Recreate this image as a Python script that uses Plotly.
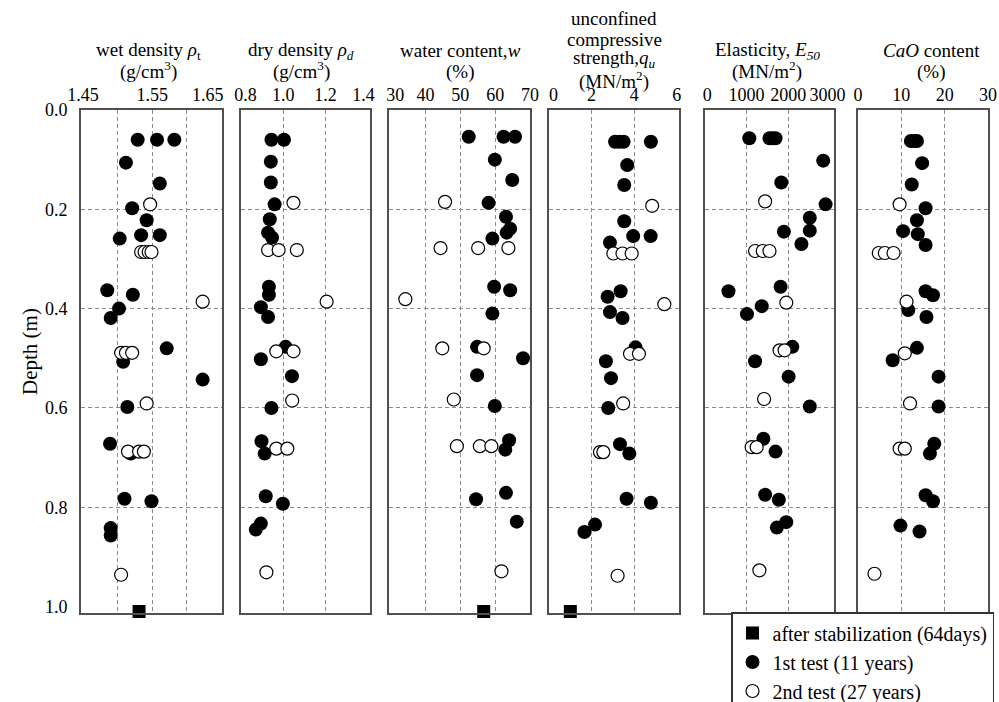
import plotly.graph_objects as go

FONT = "Liberation Serif"
W, H = 999, 702

# ---------------- data (depth in m) ----------------
# wet density (g/cm3)
wet_fill_x = [1.529, 1.557, 1.582, 1.512, 1.561, 1.521, 1.542, 1.534, 1.561, 1.503, 1.485, 1.522,
              1.502, 1.490, 1.571, 1.508, 1.623, 1.514, 1.489, 1.519, 1.510, 1.549, 1.490, 1.490]
wet_fill_d = [0.060, 0.060, 0.060, 0.106, 0.148, 0.198, 0.222, 0.252, 0.252, 0.259, 0.363, 0.372,
              0.400, 0.419, 0.480, 0.507, 0.543, 0.598, 0.672, 0.692, 0.783, 0.788, 0.842, 0.857]
wet_open_x = [1.547, 1.534, 1.539, 1.545, 1.549, 1.623, 1.505, 1.512, 1.521, 1.542, 1.515, 1.531,
              1.538, 1.505]
wet_open_d = [0.190, 0.286, 0.286, 0.286, 0.286, 0.386, 0.489, 0.489, 0.489, 0.591, 0.688, 0.688,
              0.688, 0.936]
wet_sq_x = [1.531]
wet_sq_d = [1.01]

# dry density (g/cm3)
dry_fill_x = [0.944, 1.003, 0.941, 0.941, 0.959, 0.936, 0.928, 0.947, 0.932, 0.932, 0.894, 0.928,
              1.011, 0.894, 1.041, 0.944, 0.897, 0.912, 0.917, 0.998, 0.894, 0.870]
dry_fill_d = [0.060, 0.060, 0.104, 0.146, 0.190, 0.220, 0.247, 0.257, 0.356, 0.372, 0.397, 0.417,
              0.477, 0.502, 0.536, 0.600, 0.667, 0.692, 0.778, 0.793, 0.833, 0.845]
dry_open_x = [1.048, 0.928, 0.978, 1.064, 1.205, 0.967, 1.048, 1.042, 0.967, 1.019, 0.920]
dry_open_d = [0.187, 0.282, 0.282, 0.282, 0.386, 0.486, 0.486, 0.585, 0.682, 0.682, 0.931]

# water content (%)
wat_fill_x = [52.4, 62.4, 65.7, 59.9, 64.9, 58.1, 63.1, 64.3, 63.3, 59.2, 59.7, 64.3, 59.2, 54.8,
              68.0, 54.8, 59.9, 64.0, 62.9, 63.1, 54.5, 66.2]
wat_fill_d = [0.054, 0.054, 0.054, 0.100, 0.141, 0.187, 0.215, 0.239, 0.247, 0.259, 0.356, 0.363,
              0.410, 0.477, 0.500, 0.534, 0.596, 0.665, 0.684, 0.771, 0.784, 0.829]
wat_open_x = [45.6, 44.3, 55.1, 63.8, 34.2, 44.8, 56.7, 48.1, 49.0, 55.6, 58.9, 61.8]
wat_open_d = [0.185, 0.278, 0.278, 0.278, 0.381, 0.480, 0.480, 0.583, 0.677, 0.677, 0.677, 0.929]
wat_sq_x = [56.7]
wat_sq_d = [1.01]

# unconfined compressive strength (MN/m2)
qu_fill_x = [3.10, 3.30, 3.50, 4.78, 3.67, 3.53, 3.53, 3.95, 4.77, 2.86, 3.36, 2.75, 2.86, 3.45,
             4.06, 2.67, 2.91, 2.78, 3.33, 3.77, 3.64, 4.78, 2.16, 1.66]
qu_fill_d = [0.064, 0.064, 0.064, 0.064, 0.111, 0.151, 0.224, 0.254, 0.254, 0.267, 0.365, 0.376,
             0.407, 0.419, 0.478, 0.506, 0.540, 0.600, 0.673, 0.692, 0.783, 0.791, 0.835, 0.850]
qu_open_x = [4.84, 3.02, 3.45, 3.88, 5.41, 3.80, 4.22, 3.48, 2.39, 2.55, 3.22]
qu_open_d = [0.193, 0.289, 0.289, 0.289, 0.391, 0.491, 0.491, 0.591, 0.689, 0.689, 0.938]
qu_sq_x = [1.0]
qu_sq_d = [1.01]

# elasticity E50 (MN/m2)
e50_fill_x = [1065, 1550, 1620, 1695, 2840, 1833, 2898, 2518, 2518, 1896, 2317, 1816, 564, 1364,
              1009, 2099, 1203, 2010, 2518, 1404, 1695, 1445, 1775, 1953, 1727]
e50_fill_d = [0.057, 0.057, 0.057, 0.057, 0.102, 0.146, 0.190, 0.217, 0.243, 0.245, 0.270, 0.356,
              0.365, 0.395, 0.411, 0.477, 0.506, 0.537, 0.597, 0.662, 0.688, 0.775, 0.785, 0.830,
              0.841]
e50_open_x = [1445, 1203, 1388, 1550, 1953, 1792, 1913, 1420, 1121, 1242, 1307]
e50_open_d = [0.184, 0.284, 0.284, 0.284, 0.388, 0.484, 0.484, 0.582, 0.679, 0.679, 0.927]

# CaO content (%)
cao_fill_x = [12.2, 13.0, 13.6, 14.8, 12.4, 15.6, 13.6, 10.4, 13.8, 15.6, 15.6, 17.3, 11.6, 15.8,
              13.6, 8.0, 18.6, 18.6, 17.6, 16.6, 15.6, 17.3, 9.8, 14.2]
cao_fill_d = [0.0625, 0.0625, 0.0625, 0.107, 0.150, 0.198, 0.222, 0.244, 0.250, 0.272, 0.365,
              0.373, 0.403, 0.417, 0.479, 0.504, 0.537, 0.597, 0.672, 0.692, 0.776, 0.788, 0.837,
              0.849]
cao_open_x = [9.6, 4.8, 6.2, 8.2, 11.2, 10.8, 12.0, 9.6, 10.8, 3.8]
cao_open_d = [0.190, 0.288, 0.288, 0.288, 0.386, 0.490, 0.591, 0.682, 0.682, 0.934]

depth_ticks = [0.0, 0.2, 0.4, 0.6, 0.8, 1.0]
depth_grid = [0.2, 0.4, 0.6, 0.8]

legend_names = ["after stabilization (64days)", "1st test (11 years)", "2nd test (27 years)"]

# ---------------- panel definitions ----------------
NB = "\u00a0"
panels = [
    dict(px=(81, 222), rng=[1.447, 1.651], tickvals=[1.45, 1.55, 1.65],
         ticktext=["1.45", "1.55", "1.65" + NB * 6], grid=[1.50, 1.55, 1.60],
         fill=(wet_fill_x, wet_fill_d), open=(wet_open_x, wet_open_d), sq=(wet_sq_x, wet_sq_d),
         title=["wet density <i>ρ</i><sub>t</sub>", "(g/cm<sup>3</sup>)"], tx=148, ty=[51, 70]),
    dict(px=(241, 370), rng=[0.8, 1.41], tickvals=[0.8, 1.0, 1.2, 1.4],
         ticktext=[NB * 2 + "0.8", "1.0", "1.2", "1.4" + NB * 2], grid=[1.0, 1.2],
         fill=(dry_fill_x, dry_fill_d), open=(dry_open_x, dry_open_d), sq=None,
         title=["dry density <i>ρ<sub>d</sub></i>", "(g/cm<sup>3</sup>)"], tx=301, ty=[51, 70]),
    dict(px=(389, 530), rng=[29.5, 70], tickvals=[30, 40, 50, 60, 70],
         ticktext=[NB * 2 + "30", "40", "50", "60", "70"], grid=[40, 50, 60],
         fill=(wat_fill_x, wat_fill_d), open=(wat_open_x, wat_open_d), sq=(wat_sq_x, wat_sq_d),
         title=["water content,<i>w</i>", "(%)"], tx=460, ty=[51, 72]),
    dict(px=(549, 679), rng=[0, 6.1], tickvals=[0, 2, 4, 6],
         ticktext=[NB * 2 + "0", "2", "4", "6"], grid=[2, 4],
         fill=(qu_fill_x, qu_fill_d), open=(qu_open_x, qu_open_d), sq=(qu_sq_x, qu_sq_d),
         title=["unconfined", "compressive", "strength,<i>q<sub>u</sub></i>",
                "(MN/m<sup>2</sup>)"], tx=614, ty=[18, 39, 59, 80]),
    dict(px=(705, 834), rng=[0, 3100], tickvals=[0, 1000, 2000, 3000],
         ticktext=[NB + "0", "1000", "2000", "3000" + NB], grid=[1000, 2000],
         fill=(e50_fill_x, e50_fill_d), open=(e50_open_x, e50_open_d), sq=None,
         title=["Elasticity, <i>E<sub>50</sub></i>", "(MN/m<sup>2</sup>)"], tx=767, ty=[51, 70]),
    dict(px=(858, 988), rng=[0, 30], tickvals=[0, 10, 20, 30],
         ticktext=["0", "10", "20", "30"], grid=[10, 20],
         fill=(cao_fill_x, cao_fill_d), open=(cao_open_x, cao_open_d), sq=None,
         title=["<i>CaO</i> content", "(%)"], tx=931, ty=[51, 72]),
]

Y_TOP, Y_BOT = 110, 613
ydom = [1 - Y_BOT / H, 1 - Y_TOP / H]
DEPTH_RANGE = [1.013, 0]

FRAME = "#505050"
GRID = "#8a8a8a"
MS = 13

fig = go.Figure()
layout = dict(
    width=W, height=H,
    margin=dict(l=0, r=0, t=0, b=0, autoexpand=False),
    paper_bgcolor="white", plot_bgcolor="white",
    font=dict(family=FONT, size=18, color="black"),
    showlegend=True,
    legend=dict(x=731 / W, y=1 - 612 / H, xanchor="left", yanchor="top",
                bgcolor="white", bordercolor="#333333", borderwidth=1.5,
                font=dict(family=FONT, size=20, color="black"),
                itemwidth=30, tracegroupgap=1, traceorder="normal"),
)
annotations = []

for i, p in enumerate(panels):
    n = "" if i == 0 else str(i + 1)
    xa, ya = "x" + n, "y" + n
    x0, x1 = p["px"]
    first = i == 0
    if p["sq"] is not None:
        fig.add_trace(go.Scatter(
            x=p["sq"][0], y=p["sq"][1], xaxis=xa, yaxis=ya, mode="markers",
            marker=dict(symbol="square", size=MS, color="black"),
            name=legend_names[0], legendgroup="g0", showlegend=first, cliponaxis=False))
    fig.add_trace(go.Scatter(
        x=p["fill"][0], y=p["fill"][1], xaxis=xa, yaxis=ya, mode="markers",
        marker=dict(symbol="circle", size=MS + 1, color="black"),
        name=legend_names[1], legendgroup="g1", showlegend=first, cliponaxis=False))
    fig.add_trace(go.Scatter(
        x=p["open"][0], y=p["open"][1], xaxis=xa, yaxis=ya, mode="markers",
        marker=dict(symbol="circle", size=MS, color="white",
                    line=dict(color="black", width=1.2)),
        name=legend_names[2], legendgroup="g2", showlegend=first, cliponaxis=False))

    layout["xaxis" + n] = dict(
        domain=[x0 / W, x1 / W], range=p["rng"], anchor=ya, side="top",
        tickmode="array", tickvals=p["tickvals"], ticktext=p["ticktext"],
        ticks="", showgrid=False, zeroline=False,
        showline=True, mirror=True, linecolor=FRAME, linewidth=1.8,
        tickfont=dict(family=FONT, size=18, color="black"), ticklabelstandoff=0,
        minor=dict(tickmode="array", tickvals=p["grid"], showgrid=True,
                   gridcolor=GRID, gridwidth=1, griddash="4px,3px", ticks=""),
        fixedrange=True,
    )
    layout["yaxis" + n] = dict(
        domain=ydom, range=DEPTH_RANGE, anchor=xa,
        tickmode="array", tickvals=depth_ticks,
        ticktext=["%.1f" % v for v in depth_ticks],
        showticklabels=first, ticks="", showgrid=False, zeroline=False,
        showline=True, mirror=True, linecolor=FRAME, linewidth=1.8,
        tickfont=dict(family=FONT, size=18, color="black"), ticklabelstandoff=8,
        minor=dict(tickmode="array", tickvals=depth_grid, showgrid=True,
                   gridcolor=GRID, gridwidth=1, griddash="4px,3px", ticks=""),
        fixedrange=True,
    )
    for line, yy in zip(p["title"], p["ty"]):
        annotations.append(dict(
            text=line, x=p["tx"] / W, y=1 - yy / H, xref="paper", yref="paper",
            xanchor="center", yanchor="middle", showarrow=False,
            font=dict(family=FONT, size=19, color="black")))

annotations.append(dict(
    text="Depth (m)", x=30 / W, y=1 - 352 / H, xref="paper", yref="paper",
    xanchor="center", yanchor="middle", textangle=-90, showarrow=False,
    font=dict(family=FONT, size=21, color="black")))

layout["annotations"] = annotations
fig.update_layout(**layout)
fig.write_html("out.html")
